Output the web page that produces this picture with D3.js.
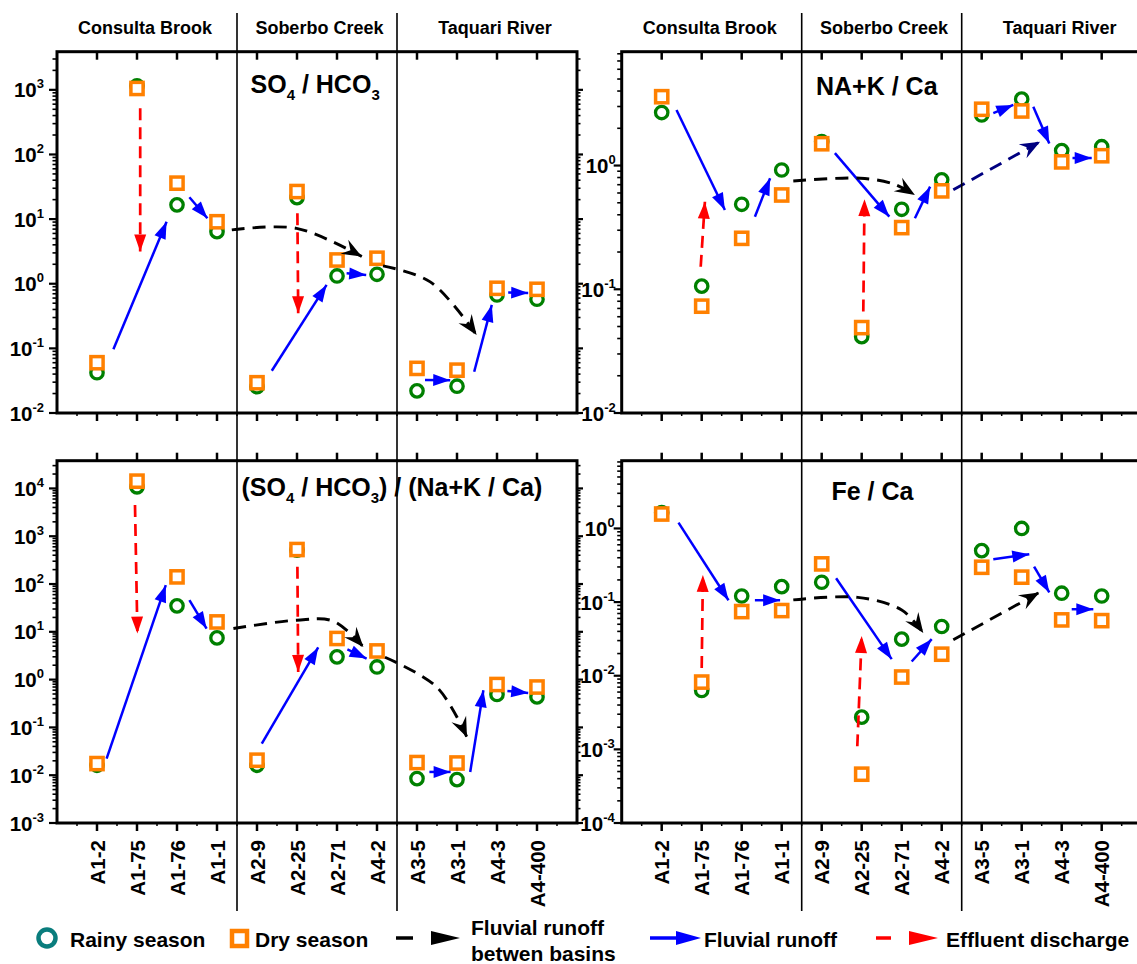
<!DOCTYPE html>
<html>
<head>
<meta charset="utf-8">
<script src="https://cdn.jsdelivr.net/npm/d3@7"></script>
<style>
  body { margin: 0; background: #fff; }
  svg text { font-family: "Liberation Sans", Arial, sans-serif; font-weight: bold; fill: #000; }
</style>
</head>
<body>
<svg id="chart" width="1137" height="964"></svg>
<script>
// sampling sites, in river order
var sites = ["A1-2", "A1-75", "A1-76", "A1-1", "A2-9", "A2-25", "A2-71", "A4-2", "A3-5", "A3-1", "A4-3", "A4-400"];
var groups = ["Consulta Brook", "Soberbo Creek", "Taquari River"];
var groupCenters = [2.2, 6.56, 10.95];
var dividers = [4.5, 8.5];

// ratios per site (rainy = circles, dry = squares)
var so4Rainy = [0.042, 1150, 16.6, 6.4, 0.0255, 21.5, 1.32, 1.40, 0.022, 0.026, 0.67, 0.575];
var so4Dry = [0.06, 1050, 36, 9.1, 0.0294, 26.7, 2.33, 2.48, 0.049, 0.046, 0.85, 0.82];
var nakRainy = [2.68, 0.106, 0.486, 0.92, 1.56, 0.0414, 0.443, 0.766, 2.56, 3.44, 1.32, 1.42];
var nakDry = [3.6, 0.073, 0.258, 0.578, 1.50, 0.049, 0.315, 0.624, 2.85, 2.76, 1.07, 1.20];
var ratioRainy = [0.0161, 10800, 34.9, 7.46, 0.0161, 512, 2.99, 1.84, 0.0085, 0.0081, 0.488, 0.435];
var ratioDry = [0.0175, 14200, 141, 16.1, 0.0206, 527, 7.25, 3.98, 0.0184, 0.018, 0.79, 0.70];
var feRainy = [1.64, 0.0063, 0.121, 0.162, 0.186, 0.00274, 0.0314, 0.0466, 0.5, 1.0, 0.132, 0.121];
var feDry = [1.57, 0.0082, 0.0743, 0.0767, 0.33, 0.00046, 0.0096, 0.0196, 0.297, 0.218, 0.0573, 0.056];

// arrows: [site position from, value from, site position to, value to]
var so4Runoff = [[1.41, 0.097, 2.74, 9.1], [3.31, 21.8, 3.76, 10.3], [5.37, 0.045, 6.74, 0.96], [7.24, 1.45, 7.73, 1.37],
                 [9.2, 0.0325, 9.83, 0.032], [10.43, 0.0435, 10.87, 0.47], [11.28, 0.73, 11.78, 0.72]];
var so4Effluent = [[2.08, 521, 2.08, 3.14], [6.01, 12.3, 6.03, 0.35]];
var so4Basins = [[[4.37, 6.8], [5.99, 7.2], [7.62, 2.63]], [[8.15, 1.89], [9.33, 1.07], [10.49, 0.161]]];

var nakRunoff = [[1.37, 2.81, 2.58, 0.437], [3.33, 0.386, 3.71, 0.79], [5.33, 1.26, 6.69, 0.386], [7.33, 0.375, 7.71, 0.675],
                 [9.29, 2.65, 9.79, 3.09], [10.29, 2.99, 10.69, 1.51], [11.27, 1.15, 11.75, 1.15]];
var nakEffluent = [[1.975, 0.152, 2.08, 0.51], [6.04, 0.066, 6.07, 0.535]];
var nakBasins = [[[4.29, 0.75], [5.96, 0.79], [6.79, 0.71], [7.33, 0.578]], [[8.29, 0.636], [10.46, 1.56]]];

var ratioRunoff = [[1.24, 0.0223, 2.72, 94.6], [3.31, 45.9, 3.74, 11.7], [5.12, 0.046, 6.53, 4.7], [7.26, 4.27, 7.74, 2.76],
                   [9.31, 0.0117, 9.84, 0.0117], [10.33, 0.0117, 10.66, 0.6], [11.26, 0.58, 11.78, 0.526]];
var ratioEffluent = [[1.95, 4480, 2.01, 9.2], [6.01, 229, 6.03, 1.45]];
var ratioBasins = [[[4.41, 11.7], [5.99, 17.5], [6.91, 16.7], [7.66, 4.8]], [[8.2, 2.94], [9.5, 0.69], [10.25, 0.062]]];

var feRunoff = [[1.42, 1.2, 2.67, 0.106], [3.33, 0.106, 3.96, 0.106], [5.36, 0.211, 6.75, 0.0168], [7.25, 0.0156, 7.75, 0.0314],
                [9.29, 0.382, 10.19, 0.447], [10.31, 0.303, 10.69, 0.135], [11.25, 0.08, 11.79, 0.08]];
var feEffluent = [[2.0, 0.0127, 2.03, 0.234], [5.89, 0.0011, 6.0, 0.0347]];
var feBasins = [[[4.29, 0.107], [5.9, 0.116], [7.0, 0.078], [7.54, 0.038]], [[8.29, 0.0307], [10.44, 0.135]]];

var legendLabels = ["Rainy season", "Dry season", "Fluvial runoff", "betwen basins", "Fluvial runoff", "Effluent discharge"];

var green = "#008000", orange = "#ff8000", blue = "#0000ff", red = "#ff0000", navy = "#000080";

var panels = [
  { left: 57, top: 51.7, bottom: 413, ymin: 1e-2, ymax: Math.pow(10, 3.59), rainy: so4Rainy, dry: so4Dry,
    runoff: so4Runoff, effluent: so4Effluent, basins: so4Basins, basinColors: ["#000", "#000"],
    title: [{ t: "SO" }, { t: "4", sub: true }, { t: " / HCO" }, { t: "3", sub: true }], titleX: 250.5, titleY: 92.5,
    labelGap: 13, topIn: true },
  { left: 621.7, top: 51.7, bottom: 413, ymin: 1e-2, ymax: Math.pow(10, 0.92), rainy: nakRainy, dry: nakDry,
    runoff: nakRunoff, effluent: nakEffluent, basins: nakBasins, basinColors: ["#000", navy],
    title: [{ t: "NA+K / Ca" }], titleX: 816, titleY: 94.5, labelGap: 6, topIn: true },
  { left: 57, top: 460.7, bottom: 823, ymin: 1e-3, ymax: Math.pow(10, 4.58), rainy: ratioRainy, dry: ratioDry,
    runoff: ratioRunoff, effluent: ratioEffluent, basins: ratioBasins, basinColors: ["#000", "#000"],
    title: [{ t: "(SO" }, { t: "4", sub: true }, { t: " / HCO" }, { t: "3", sub: true }, { t: ") / (Na+K / Ca)" }],
    titleX: 241.5, titleY: 496, labelGap: 13, topIn: false },
  { left: 621.7, top: 460.7, bottom: 823, ymin: 1e-4, ymax: Math.pow(10, 0.92), rainy: feRainy, dry: feDry,
    runoff: feRunoff, effluent: feEffluent, basins: feBasins, basinColors: ["#000", "#000"],
    title: [{ t: "Fe / Ca" }], titleX: 831.5, titleY: 500, labelGap: 7, topIn: false }
];

var svg = d3.select("#chart");
var defs = svg.append("defs");

function addMarker(id, color, shape) {
  defs.append("marker")
    .attr("id", id)
    .attr("viewBox", "-22 -10 23 20")
    .attr("markerWidth", 23).attr("markerHeight", 20)
    .attr("refX", 0).attr("refY", 0)
    .attr("markerUnits", "userSpaceOnUse")
    .attr("orient", "auto")
    .append("path").attr("d", shape).attr("fill", color);
}
addMarker("headBlue", blue, "M0,0 L-17,-6 L-17,6 Z");
addMarker("headRed", red, "M0,0 L-17,-6 L-17,6 Z");
addMarker("headBlack", "#000", "M0,0 L-20,-8 L-13,0 L-20,8 Z");
addMarker("headNavy", navy, "M0,0 L-20,-8 L-13,0 L-20,8 Z");

function drawPanel(p) {
  var g = svg.append("g");
  var right = p.left + 520;
  var x = d3.scaleLinear().domain([0, 13]).range([p.left, right]);
  var y = d3.scaleLog().domain([p.ymin, p.ymax]).range([p.bottom, p.top]);

  // log ticks
  var ticks = [];
  var lo = Math.floor(Math.log10(p.ymin)), hi = Math.ceil(Math.log10(p.ymax));
  for (var d = lo; d <= hi; d++) {
    for (var k = 1; k <= 9; k++) {
      var v = k * Math.pow(10, d);
      if (v >= p.ymin * 0.999 && v <= p.ymax * 1.001) ticks.push({ v: v, major: k == 1, e: d });
    }
  }
  ticks.forEach(function(t) {
    var len = t.major ? 8 : 4.5;
    g.append("line").attr("x1", p.left - len).attr("x2", p.left).attr("y1", y(t.v)).attr("y2", y(t.v))
      .attr("stroke", "#000").attr("stroke-width", t.major ? 2.2 : 1.6);
    g.append("line").attr("x1", right).attr("x2", right + (t.major ? 6 : 3.5)).attr("y1", y(t.v)).attr("y2", y(t.v))
      .attr("stroke", "#000").attr("stroke-width", t.major ? 2.2 : 1.6);
    if (t.major) {
      var lab = g.append("text")
        .attr("x", p.left - p.labelGap).attr("y", y(t.v) + 7.5)
        .attr("text-anchor", "end").attr("font-size", 20.5)
        .text("10");
      lab.append("tspan").attr("dy", -9).attr("font-size", 13).text(t.e);
    }
  });

  // x ticks
  d3.range(1, 13).forEach(function(i) {
    g.append("line").attr("x1", x(i)).attr("x2", x(i)).attr("y1", p.bottom).attr("y2", p.bottom + 8)
      .attr("stroke", "#000").attr("stroke-width", 2.5);
    var tl = p.topIn ? 8 : -8;
    g.append("line").attr("x1", x(i)).attr("x2", x(i)).attr("y1", p.top).attr("y2", p.top + tl)
      .attr("stroke", "#000").attr("stroke-width", 2.5);
  });
  d3.range(0.5, 13, 1).forEach(function(i) {
    g.append("line").attr("x1", x(i)).attr("x2", x(i)).attr("y1", p.bottom).attr("y2", p.bottom + 3)
      .attr("stroke", "#000").attr("stroke-width", 1.5);
  });

  // frame
  g.append("rect").attr("x", p.left).attr("y", p.top).attr("width", 520).attr("height", p.bottom - p.top)
    .attr("fill", "none").attr("stroke", "#000").attr("stroke-width", 3);

  // markers
  var idx = d3.range(1, 13);
  g.selectAll(".rainy").data(idx).join("circle")
    .attr("cx", function(i) { return x(i); })
    .attr("cy", function(i) { return y(p.rainy[i - 1]); })
    .attr("r", 6.2).attr("fill", "#fff").attr("stroke", green).attr("stroke-width", 3.3);
  g.selectAll(".dry").data(idx).join("rect")
    .attr("x", function(i) { return x(i) - 6.1; })
    .attr("y", function(i) { return y(p.dry[i - 1]) - 6.1; })
    .attr("width", 12.2).attr("height", 12.2)
    .attr("fill", "#fff").attr("stroke", orange).attr("stroke-width", 3.5);

  // arrows
  p.runoff.forEach(function(a) {
    g.append("line").attr("x1", x(a[0])).attr("y1", y(a[1])).attr("x2", x(a[2])).attr("y2", y(a[3]))
      .attr("stroke", blue).attr("stroke-width", 2.5).attr("marker-end", "url(#headBlue)");
  });
  p.effluent.forEach(function(a) {
    g.append("line").attr("x1", x(a[0])).attr("y1", y(a[1])).attr("x2", x(a[2])).attr("y2", y(a[3]))
      .attr("stroke", red).attr("stroke-width", 2.7).attr("stroke-dasharray", "12,7")
      .attr("marker-end", "url(#headRed)");
  });
  var curve = d3.line()
    .x(function(q) { return x(q[0]); })
    .y(function(q) { return y(q[1]); })
    .curve(d3.curveCatmullRom.alpha(0.5));
  p.basins.forEach(function(b, bi) {
    var col = p.basinColors[bi];
    g.append("path").attr("d", curve(b)).attr("fill", "none")
      .attr("stroke", col).attr("stroke-width", 2.9).attr("stroke-dasharray", "13,8")
      .attr("marker-end", col == navy ? "url(#headNavy)" : "url(#headBlack)");
  });

  // title
  var tt = g.append("text").attr("x", p.titleX).attr("y", p.titleY).attr("font-size", 25);
  var shift = 0;
  p.title.forEach(function(part) {
    var s = part.sub ? 7 : 0;
    tt.append("tspan").attr("dy", s - shift).attr("font-size", part.sub ? 15 : 25).text(part.t);
    shift = s;
  });

  return x;
}

var xScales = panels.map(drawPanel);

// group dividers, group labels and site labels per column
[xScales[0], xScales[1]].forEach(function(x) {
  dividers.forEach(function(dv) {
    svg.append("line").attr("x1", x(dv)).attr("x2", x(dv)).attr("y1", 13).attr("y2", 911)
      .attr("stroke", "#000").attr("stroke-width", 1.6);
  });
  groups.forEach(function(name, i) {
    svg.append("text").attr("x", x(groupCenters[i])).attr("y", 34)
      .attr("text-anchor", "middle").attr("font-size", 18).text(name);
  });
  sites.forEach(function(s, i) {
    svg.append("text")
      .attr("transform", "translate(" + (x(i + 1) + 7.5) + ",840) rotate(-90)")
      .attr("text-anchor", "end").attr("font-size", 20.5).text(s);
  });
});

// legend
var lg = svg.append("g");
lg.append("circle").attr("cx", 47).attr("cy", 938).attr("r", 8.5)
  .attr("fill", "#fff").attr("stroke", "#0a7d7d").attr("stroke-width", 4.5);
lg.append("text").attr("x", 70).attr("y", 947).attr("font-size", 21).text(legendLabels[0]);
lg.append("rect").attr("x", 232).attr("y", 931).attr("width", 15).attr("height", 15)
  .attr("fill", "#fff").attr("stroke", orange).attr("stroke-width", 4.5);
lg.append("text").attr("x", 255).attr("y", 947).attr("font-size", 21).text(legendLabels[1]);
lg.append("line").attr("x1", 396).attr("x2", 413).attr("y1", 938).attr("y2", 938)
  .attr("stroke", "#000").attr("stroke-width", 3.5);
lg.append("path").attr("d", "M431,931 L460,938 L431,945 Z").attr("fill", "#000");
lg.append("text").attr("x", 471).attr("y", 935).attr("font-size", 21).text(legendLabels[2]);
lg.append("text").attr("x", 471).attr("y", 961).attr("font-size", 21).text(legendLabels[3]);
lg.append("line").attr("x1", 650).attr("x2", 680).attr("y1", 938).attr("y2", 938)
  .attr("stroke", blue).attr("stroke-width", 3.5);
lg.append("path").attr("d", "M676,931 L701,938 L676,945 Z").attr("fill", blue);
lg.append("text").attr("x", 704).attr("y", 947).attr("font-size", 21).text(legendLabels[4]);
lg.append("line").attr("x1", 876).attr("x2", 891).attr("y1", 938).attr("y2", 938)
  .attr("stroke", red).attr("stroke-width", 3.5);
lg.append("path").attr("d", "M909,931 L938,938 L909,945 Z").attr("fill", red);
lg.append("text").attr("x", 946).attr("y", 947).attr("font-size", 21).text(legendLabels[5]);
</script>
</body>
</html>
